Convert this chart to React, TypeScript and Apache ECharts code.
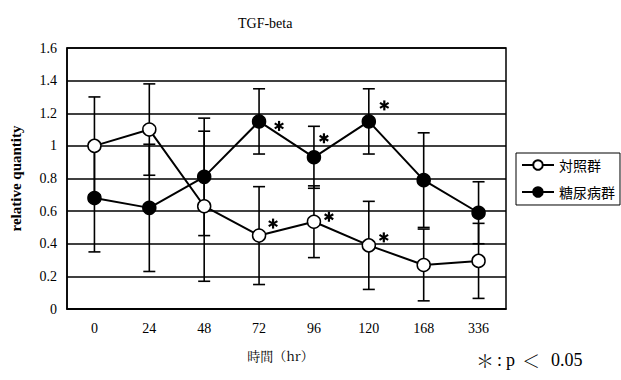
import React, { useEffect, useRef } from "react";
import * as echarts from "echarts";

const categories = ["0", "24", "48", "72", "96", "120", "168", "336"];
const controlValues = [1.0, 1.1, 0.63, 0.45, 0.535, 0.39, 0.27, 0.295];
const controlErrors = [0.3, 0.28, 0.46, 0.3, 0.22, 0.27, 0.22, 0.23];
const diabetesValues = [0.68, 0.62, 0.81, 1.15, 0.93, 1.15, 0.79, 0.59];
const diabetesErrors = [0.33, 0.39, 0.36, 0.2, 0.19, 0.2, 0.29, 0.19];
const yTicks = [0, 0.2, 0.4, 0.6, 0.8, 1.0, 1.2, 1.4, 1.6];
const starCategories = ["72", "72", "96", "96", "120", "120"];
const starValues = [1.15, 0.45, 0.93, 0.535, 1.15, 0.39];
const starOffsets = [
  [20, 4.5],
  [14, -12],
  [10, -19],
  [15, -5],
  [15.5, -16],
  [15, -8],
];
const footnoteParts = ["＊", ":", "p", "＜", "0.05"];
const footnoteLefts = [476, 497, 506, 522, 551];

const SERIF = "Liberation Serif";
const MINCHO = "Noto Serif CJK JP";
const CJK = "Noto Sans CJK JP";

export default function App() {
  const ref = useRef<HTMLDivElement>(null);
  useEffect(() => {
    document.body.style.margin = "0";
    if (!ref.current) return;
    const chart = echarts.init(ref.current, undefined, { renderer: "svg" });

    const errData = (vals: number[], errs: number[]) =>
      vals.map((v, i) => [i, v - errs[i], v + errs[i]]);

    const renderErr = (params: any, api: any) => {
      const x = api.value(0);
      const lo = api.coord([x, api.value(1)]);
      const hi = api.coord([x, api.value(2)]);
      const hw = 6;
      const style = { stroke: "#000", lineWidth: 1.6 };
      return {
        type: "group",
        children: [
          { type: "line", shape: { x1: lo[0], y1: lo[1], x2: hi[0], y2: hi[1] }, style },
          { type: "line", shape: { x1: lo[0] - hw, y1: lo[1], x2: lo[0] + hw, y2: lo[1] }, style },
          { type: "line", shape: { x1: hi[0] - hw, y1: hi[1], x2: hi[0] + hw, y2: hi[1] }, style },
        ],
      };
    };

    const renderStar = (params: any, api: any) => {
      const p = api.coord([api.value(0), api.value(1)]);
      const off = starOffsets[params.dataIndex];
      const cx = p[0] + off[0];
      const cy = p[1] + off[1];
      const r = 5;
      const style = { stroke: "#000", lineWidth: 2.2 };
      const angles = [90, 30, 150];
      return {
        type: "group",
        children: angles.map((a) => {
          const rad = (a * Math.PI) / 180;
          const dx = Math.cos(rad) * r;
          const dy = Math.sin(rad) * r;
          return {
            type: "line",
            shape: { x1: cx - dx, y1: cy - dy, x2: cx + dx, y2: cy + dy },
            style,
          };
        }),
      };
    };

    const option: any = {
      animation: false,
      backgroundColor: "#fff",
      title: {
        text: "TGF-beta",
        left: 233,
        top: 11,
        textStyle: { fontFamily: SERIF, fontSize: 14, fontWeight: "normal", color: "#000" },
      },
      legend: {
        orient: "vertical",
        left: 516,
        top: 153,
        data: ["対照群", "糖尿病群"],
        itemWidth: 32,
        itemHeight: 12,
        itemGap: 13,
        padding: [5, 5, 6, 5],
        borderColor: "#000",
        borderWidth: 1,
        textStyle: { fontFamily: CJK, fontSize: 14, color: "#000" },
      },
      grid: {
        left: 63,
        right: 115,
        top: 48,
        bottom: 71,
        show: true,
        borderColor: "#000",
        borderWidth: 1.5,
        backgroundColor: "transparent",
      },
      xAxis: {
        type: "category",
        data: categories,
        boundaryGap: true,
        name: "時間（hr）",
        nameLocation: "middle",
        nameGap: 40,
        nameTextStyle: { fontFamily: MINCHO, fontSize: 13, color: "#000", padding: [0, 12, 0, 0] },
        axisLine: { lineStyle: { color: "#000", width: 1.5 } },
        axisTick: { inside: true, length: 6, lineStyle: { color: "#000", width: 1.2 } },
        axisLabel: { fontFamily: SERIF, fontSize: 14, color: "#000", margin: 12 },
        splitLine: { show: false },
      },
      yAxis: {
        type: "value",
        min: yTicks[0],
        max: yTicks[yTicks.length - 1],
        interval: 0.2,
        name: "relative quantity",
        nameLocation: "middle",
        nameGap: 44,
        nameTextStyle: { fontFamily: SERIF, fontSize: 15, fontWeight: "bold", color: "#000" },
        axisLine: { show: true, lineStyle: { color: "#000", width: 1.5 } },
        axisTick: { show: false },
        axisLabel: { fontFamily: SERIF, fontSize: 14, color: "#000", margin: 10 },
        splitLine: { show: true, lineStyle: { color: "#000", width: 1.5 } },
      },
      series: [
        {
          type: "custom",
          name: "errC",
          renderItem: renderErr,
          data: errData(controlValues, controlErrors),
          encode: { x: 0, y: [1, 2] },
          z: 2,
          silent: true,
        },
        {
          type: "custom",
          name: "errD",
          renderItem: renderErr,
          data: errData(diabetesValues, diabetesErrors),
          encode: { x: 0, y: [1, 2] },
          z: 2,
          silent: true,
        },
        {
          type: "line",
          name: "対照群",
          data: controlValues,
          symbol: "circle",
          symbolSize: 13,
          lineStyle: { color: "#000", width: 2 },
          itemStyle: { color: "#fff", borderColor: "#000", borderWidth: 1.5 },
          z: 4,
        },
        {
          type: "line",
          name: "糖尿病群",
          data: diabetesValues,
          symbol: "circle",
          symbolSize: 13,
          lineStyle: { color: "#000", width: 2 },
          itemStyle: { color: "#000", borderColor: "#000", borderWidth: 1.5 },
          z: 4,
        },
        {
          type: "custom",
          name: "stars",
          renderItem: renderStar,
          z: 5,
          silent: true,
          data: starCategories.map((c, i) => [categories.indexOf(c), starValues[i]]),
          encode: { x: 0, y: 1 },
        },
      ],
      graphic: footnoteParts.map((t, i) => ({
        type: "text",
        left: footnoteLefts[i],
        top: 351,
        style: {
          text: t,
          font: `18px ${i === 0 || i === 3 ? MINCHO : SERIF}`,
          fill: "#000",
        },
      })),
    };
    chart.setOption(option);
    return () => chart.dispose();
  }, []);
  return <div ref={ref} style={{ width: 621, height: 380 }} />;
}
